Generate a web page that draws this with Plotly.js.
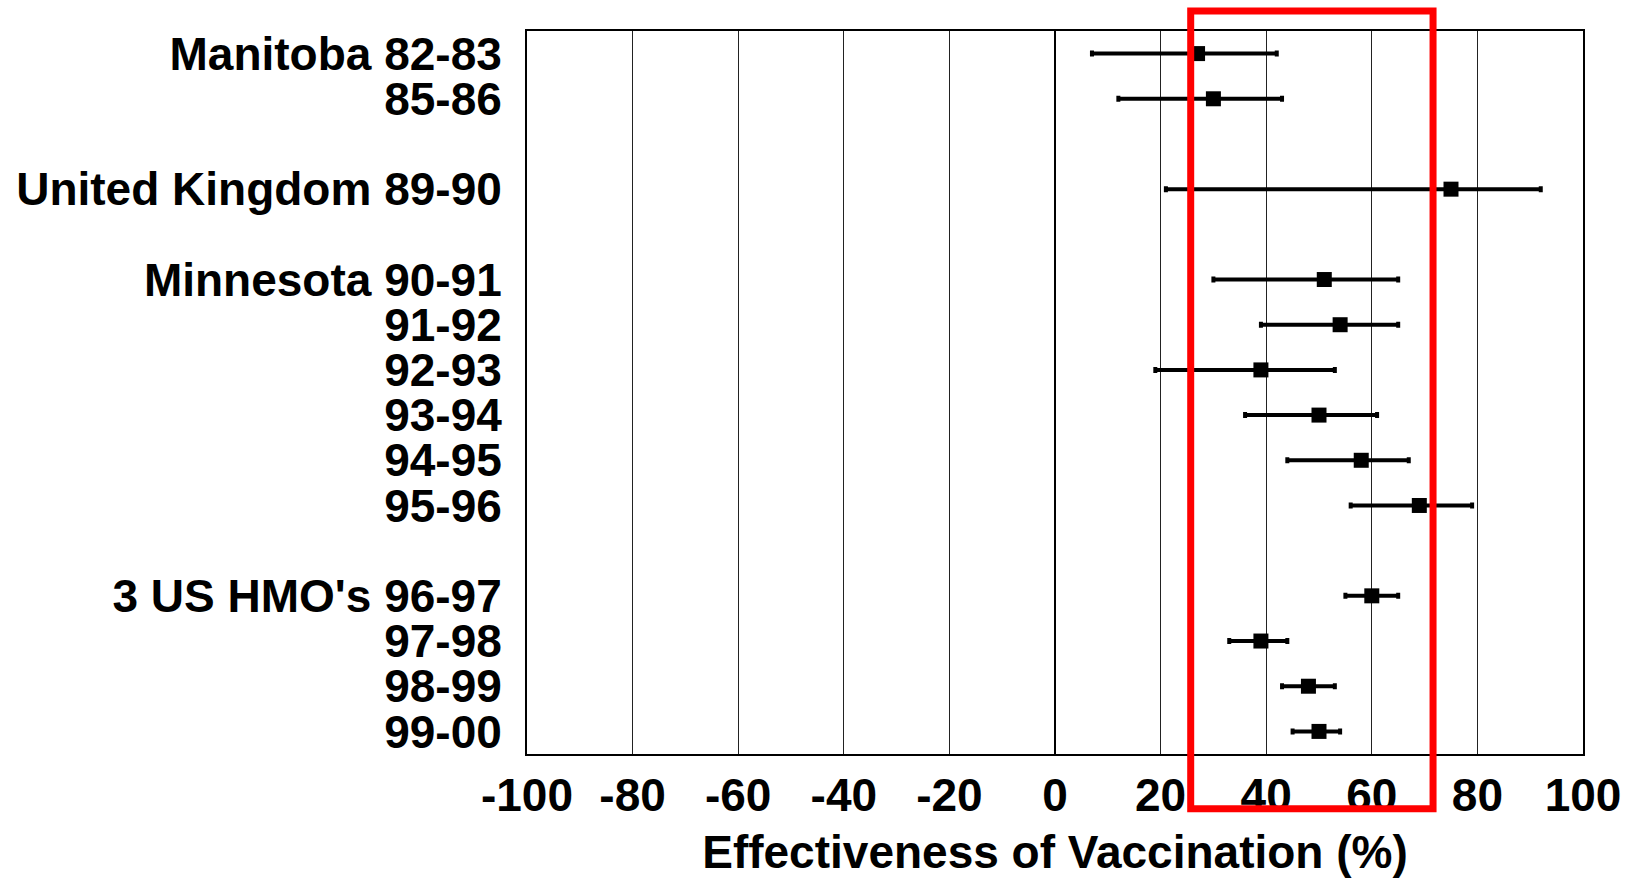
<!DOCTYPE html>
<html>
<head>
<meta charset="utf-8">
<script src="https://cdn.plot.ly/plotly-3.0.1.min.js"></script>
<style>html,body{margin:0;padding:0;background:#fff;}#chart{width:1632px;height:878px;}</style>
</head>
<body>
<div id="chart"></div>
<script>
// Row order (top to bottom), including blank spacer rows between studies
const rowOrder = ['Manitoba 82-83', '85-86', ' ', 'United Kingdom 89-90', '  ',
  'Minnesota 90-91', '91-92', '92-93', '93-94', '94-95', '95-96', '   ',
  "3 US HMO's 96-97", '97-98', '98-99', '99-00'];
// Studies with data
const studies = ['Manitoba 82-83', '85-86', 'United Kingdom 89-90',
  'Minnesota 90-91', '91-92', '92-93', '93-94', '94-95', '95-96',
  "3 US HMO's 96-97", '97-98', '98-99', '99-00'];
const effect = [27, 30, 75, 51, 54, 39, 50, 58, 69, 60, 39, 48, 50];
const lower  = [7, 12, 21, 30, 39, 19, 36, 44, 56, 55, 33, 43, 45];
const upper  = [42, 43, 92, 65, 65, 53, 61, 67, 79, 65, 44, 53, 54];
const xTicks = [-100, -80, -60, -40, -20, 0, 20, 40, 60, 80, 100];
const highlightRange = [25.7, 71.6];

const plusErr = effect.map((v, i) => upper[i] - v);
const minusErr = effect.map((v, i) => v - lower[i]);

const font = {family: 'Liberation Sans, Arial, sans-serif', size: 46, color: '#000', weight: 'bold'};

const trace = {
  type: 'scatter', mode: 'markers',
  x: effect, y: studies,
  marker: {symbol: 'square', size: 15, color: '#000'},
  error_x: {type: 'data', symmetric: false, array: plusErr, arrayminus: minusErr,
            color: '#000', thickness: 4, width: 3},
  hoverinfo: 'x+y', showlegend: false, cliponaxis: false
};

const layout = {
  width: 1632, height: 878,
  margin: {l: 527, r: 49, t: 31, b: 124},
  paper_bgcolor: '#fff', plot_bgcolor: '#fff',
  font: font,
  xaxis: {
    range: [-100, 100], tickmode: 'array', tickvals: xTicks, ticktext: xTicks.map(String),
    showgrid: true, gridcolor: '#222', gridwidth: 1,
    zeroline: true, zerolinecolor: '#000', zerolinewidth: 2,
    showline: true, linecolor: '#000', linewidth: 2, mirror: true,
    ticks: '', ticklabelstandoff: 0,
    tickfont: font,
    title: {text: 'Effectiveness of Vaccination (%)', font: font, standoff: 32}
  },
  yaxis: {
    type: 'category', categoryorder: 'array', categoryarray: rowOrder,
    tickmode: 'array', tickvals: rowOrder, ticktext: rowOrder,
    range: [15.5, -0.5],
    showgrid: false, zeroline: false,
    showline: true, linecolor: '#000', linewidth: 2, mirror: true,
    ticks: '', ticklabelstandoff: 14,
    tickfont: font
  },
  shapes: [{
    type: 'rect', xref: 'x', yref: 'paper',
    x0: highlightRange[0], x1: highlightRange[1], y0: -0.0757, y1: 1.0277,
    line: {color: '#ff0000', width: 7}, fillcolor: 'rgba(0,0,0,0)', layer: 'above'
  }]
};

Plotly.newPlot('chart', [trace], layout, {displayModeBar: false, staticPlot: true});
</script>
</body>
</html>
